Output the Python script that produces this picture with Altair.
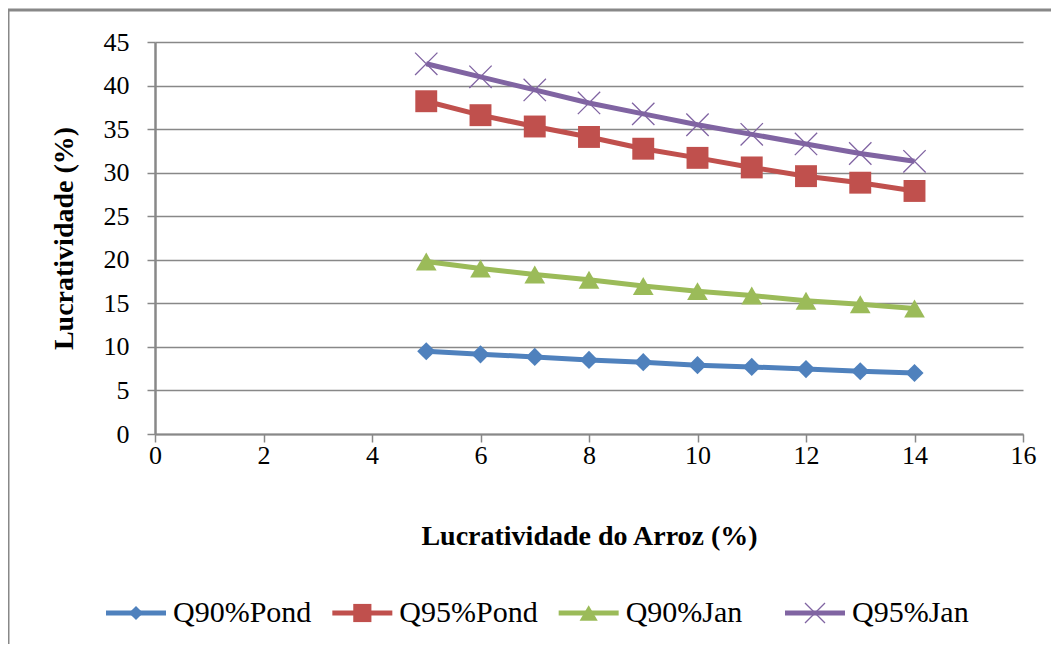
import altair as alt
import pandas as pd

# ---- data ----
x_vals = [5, 6, 7, 8, 9, 10, 11, 12, 13, 14]
series_names = ["Q90%Pond", "Q95%Pond", "Q90%Jan", "Q95%Jan"]
q90_pond = [9.5, 9.15, 8.85, 8.5, 8.25, 7.9, 7.7, 7.45, 7.2, 7.0]
q95_pond = [38.2, 36.6, 35.3, 34.1, 32.75, 31.7, 30.6, 29.6, 28.85, 27.9]
q90_jan = [19.8, 19.0, 18.3, 17.7, 17.0, 16.4, 15.9, 15.3, 14.9, 14.4]
q95_jan = [42.5, 41.0, 39.5, 38.0, 36.75, 35.5, 34.4, 33.3, 32.2, 31.3]
x_ticks = [0, 2, 4, 6, 8, 10, 12, 14, 16]
y_ticks = [0, 5, 10, 15, 20, 25, 30, 35, 40, 45]

# ---- styles ----
colors = ["#4F81BD", "#C0504D", "#9BBB59", "#8064A2"]
shapes = ["diamond", "square", "triangle-up", "M-1,-1L1,1M-1,1L1,-1"]
sizes = [330, 480, 430, 500]
filled = [True, True, True, False]
legend_sizes = [200, 330, 330, 400]
FONT = "Liberation Serif"
GRAY = "#888888"

rows = []
for name, vals in zip(series_names, [q90_pond, q95_pond, q90_jan, q95_jan]):
    for xv, yv in zip(x_vals, vals):
        rows.append({"series": name, "x": xv, "y": yv})
df = pd.DataFrame(rows)
legend_df = pd.DataFrame({"series": series_names})

xs = alt.Scale(domain=[0, 16], nice=False, zero=False)
ys = alt.Scale(domain=[0, 45], nice=False)
color = alt.Color("series:N", scale=alt.Scale(domain=series_names, range=colors), legend=None)

x_axis = alt.Axis(
    values=x_ticks, grid=False, domainColor=GRAY, domainWidth=2,
    tickColor=GRAY, tickWidth=1.5, tickSize=8,
    labelFont=FONT, labelFontSize=26, labelColor="black", labelPadding=0, labelFlush=False,
    title="Lucratividade do Arroz (%)", titleFont=FONT, titleFontSize=28,
    titleFontWeight="bold", titleColor="black",
    titleX=434, titleY=102, titleBaseline="middle", titleAlign="center",
)
y_axis = alt.Axis(
    values=y_ticks, grid=True, gridColor=GRAY, gridWidth=1.5,
    domainColor=GRAY, domainWidth=2.5, tickColor=GRAY, tickWidth=1.5, tickSize=8,
    labelFont=FONT, labelFontSize=26, labelColor="black", labelPadding=18,
    title="Lucratividade (%)", titleFont=FONT, titleFontSize=28,
    titleFontWeight="bold", titleColor="black",
    titleAngle=270, titleX=-91, titleY=196, titleAlign="center", titleBaseline="middle",
)

base = alt.Chart(df)
lines = base.mark_line(strokeWidth=5).encode(
    x=alt.X("x:Q", scale=xs, axis=x_axis),
    y=alt.Y("y:Q", scale=ys, axis=y_axis),
    color=color,
)

marker_layers = []
for name, c, shp, sz, fl in zip(series_names, colors, shapes, sizes, filled):
    marker_layers.append(
        base.transform_filter(alt.datum.series == name).mark_point(
            shape=shp, size=sz, filled=fl, color=c, opacity=1,
            strokeWidth=1.3 if not fl else 1,
        ).encode(
            x=alt.X("x:Q", scale=xs),
            y=alt.Y("y:Q", scale=ys),
        )
    )

main = alt.layer(lines, *marker_layers)

# ---- legend at the bottom ----
leg_x = alt.X("series:N", scale=alt.Scale(type="point", domain=series_names,
                                          range=[-49, 630], padding=0), axis=None)
LEG_Y = 571
lbase = alt.Chart(legend_df)
leg_lines = lbase.mark_point(shape="M-1,0L1,0", size=3600, filled=False,
                             strokeWidth=5, opacity=1, xOffset=30).encode(
    x=leg_x, y=alt.value(LEG_Y), color=color)
leg_markers = []
for name, c, shp, sz, fl in zip(series_names, colors, shapes, legend_sizes, filled):
    leg_markers.append(
        lbase.transform_filter(alt.datum.series == name).mark_point(
            shape=shp, size=sz, filled=fl, color=c, opacity=1,
            strokeWidth=1.3 if not fl else 1, xOffset=30,
        ).encode(x=leg_x, y=alt.value(LEG_Y))
    )
leg_text = lbase.mark_text(align="left", baseline="middle", font=FONT,
                           fontSize=30, color="black", dx=67).encode(
    x=leg_x, y=alt.value(LEG_Y), text="series:N")
legend = alt.layer(leg_lines, *leg_markers, leg_text)

# ---- outer frame ----
frame = alt.Chart(pd.DataFrame({"f": [0]})).mark_rect(
    fillOpacity=0, stroke=GRAY, strokeWidth=3).encode(
    x=alt.value(-147), x2=alt.value(1200), y=alt.value(-32), y2=alt.value(800))

chart = alt.layer(main, legend, frame).resolve_scale(x="independent").properties(
    width=868, height=392,
    padding={"left": 147, "top": 34, "right": 28, "bottom": 210},
    autosize=alt.AutoSizeParams(type="none"),
    background="white",
).configure_view(stroke=None)

chart.save("out.html", embed_options={"renderer": "svg", "actions": False})
